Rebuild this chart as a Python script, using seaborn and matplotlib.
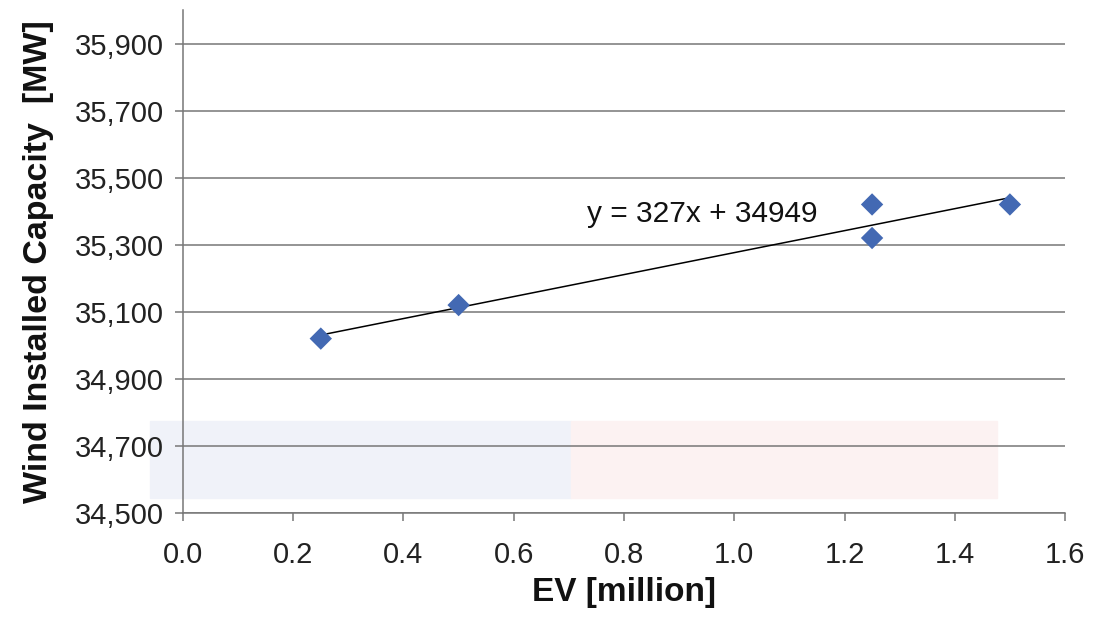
import matplotlib
matplotlib.use("Agg")
import matplotlib.pyplot as plt
import numpy as np
import pandas as pd
import seaborn as sns
from matplotlib.ticker import FuncFormatter

# data
ev_million = [0.25, 0.5, 1.25, 1.25, 1.5]
wind_mw = [35020, 35120, 35420, 35320, 35420]
x_ticks = [0.0, 0.2, 0.4, 0.6, 0.8, 1.0, 1.2, 1.4, 1.6]
y_ticks = [34500, 34700, 34900, 35100, 35300, 35500, 35700, 35900]

df = pd.DataFrame({"ev": ev_million, "wind": wind_mw})

sns.set_theme(style="white")
plt.rcParams["font.family"] = ["Liberation Sans", "DejaVu Sans"]

fig = plt.figure(figsize=(10.93, 6.23), dpi=100)
ax = fig.add_axes([0.1674, 0.1766, 0.807, 0.8074])
ax.patch.set_alpha(0)

# faint tinted bands of the page background
fig.add_artist(plt.Rectangle((0.137, 0.20), 0.385, 0.125, transform=fig.transFigure,
                             color="#f0f2f9", zorder=-1))
fig.add_artist(plt.Rectangle((0.522, 0.20), 0.39, 0.125, transform=fig.transFigure,
                             color="#fcf2f2", zorder=-1))

ax.set_ylim(34500, 36000)
ax.set_xlim(0.0, 1.6)
ax.set_yticks(y_ticks)
ax.set_xticks(x_ticks)
ax.yaxis.grid(True, color="#777777", linewidth=1.1)
ax.set_axisbelow(True)

sns.regplot(data=df, x="ev", y="wind", ax=ax, ci=None, truncate=True,
            marker="D",
            scatter_kws={"s": 130, "color": "#4369b3", "alpha": 1,
                         "edgecolors": "none", "zorder": 3},
            line_kws={"color": "black", "linewidth": 1.1, "zorder": 2})

ax.text(0.733, 35392, "y = 327x + 34949", fontsize=21.5, va="center", ha="left",
        color="#111111")

ax.yaxis.set_major_formatter(FuncFormatter(lambda v, p: f"{int(v):,}"))
ax.xaxis.set_major_formatter(FuncFormatter(lambda v, p: f"{v:.1f}"))

for side in ["top", "right"]:
    ax.spines[side].set_visible(False)
for side in ["left", "bottom"]:
    ax.spines[side].set_color("#777777")
    ax.spines[side].set_linewidth(1.1)

ax.tick_params(axis="both", which="major", length=6, width=1.1, color="#777777",
               labelsize=21, labelcolor="#222222", direction="out",
               bottom=True, left=True)
ax.tick_params(axis="y", pad=8)
ax.tick_params(axis="x", pad=14)

ax.set_xlabel("EV [million]", fontsize=24, fontweight="bold", color="#111111", labelpad=6)
ax.set_ylabel("Wind Installed Capacity  [MW]", fontsize=24.5, fontweight="bold",
              color="#111111", labelpad=15)

fig.savefig("out.png", dpi=100)
